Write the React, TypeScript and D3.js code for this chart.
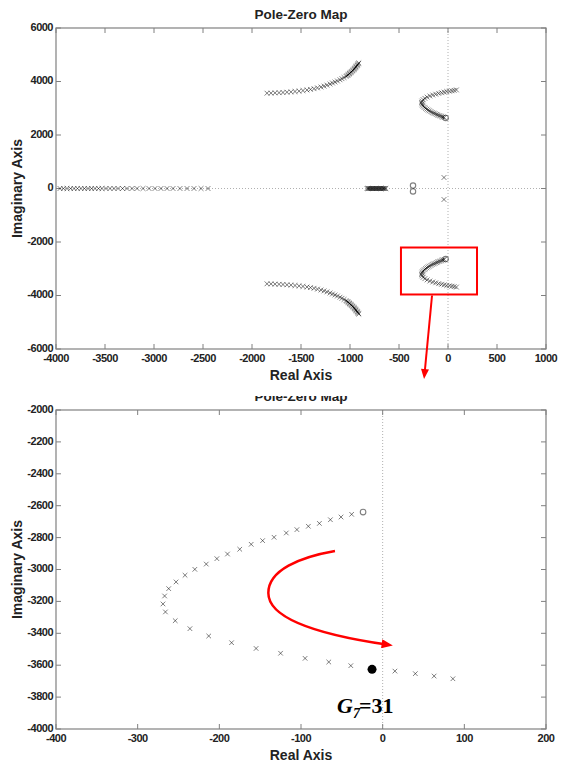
import React from "react";
import * as d3 from "d3";

const W = 561;
const H = 766;

// ---- full view: root locus of all poles ----
const realAxisPoles = [
  -3959, -3923, -3888, -3852, -3816, -3781, -3745, -3709, -3673, -3638, -3602,
  -3566, -3531, -3490, -3449, -3408, -3367, -3321, -3276, -3224, -3173, -3112,
  -3051, -2990, -2929, -2867, -2806, -2735, -2663, -2592, -2520, -2449,
];

// upper slow branch (its conjugate is drawn as the lower branch)
const slowBranchRe = [
  -1847, -1806, -1765, -1724, -1684, -1643, -1602, -1561, -1520, -1480, -1439,
  -1403, -1367, -1332, -1296, -1265, -1235, -1204, -1179, -1153, -1128, -1102,
  -1082, -1061, -1041, -1030, -1020, -1012, -1005, -997, -990, -982, -974, -966,
  -959, -952, -946, -940, -934, -927, -921, -915, -910,
];
const slowBranchIm = [
  3563, 3566, 3574, 3581, 3589, 3600, 3611, 3626, 3641, 3660, 3682, 3705, 3731,
  3761, 3794, 3828, 3865, 3906, 3944, 3981, 4019, 4063, 4105, 4149, 4194, 4220,
  4247, 4272, 4299, 4323, 4348, 4376, 4404, 4432, 4460, 4488, 4516, 4546, 4576,
  4606, 4636, 4664, 4692,
];

// dense cluster of real poles
const clusterRe = [
  -826, -818, -810, -802, -794, -786, -778, -770, -762, -754, -746, -738, -730,
  -722, -714, -706, -698, -690, -682, -674, -666, -658, -650, -642, -634,
];

// complex pair of zeros and poles near the origin (upper half values)
const nearZerosRe = [-357];
const nearZerosIm = [110];
const nearPolesRe = [-41];
const nearPolesIm = [411];

// ---- dominant branch (lower half), shown in detail in the zoomed view ----
const domBranchRe = [
  -38, -51, -64, -77.5, -91, -105, -118, -133, -147, -161, -175, -190, -203,
  -216, -230, -242, -253, -262, -267, -269, -266, -254, -236, -213, -185, -155,
  -125, -95, -66, -39, 15, 40, 63, 86,
];
const domBranchIm = [
  -2654, -2671, -2688, -2711, -2729, -2750, -2771, -2798, -2819, -2842, -2873,
  -2903, -2932, -2966, -2999, -3036, -3078, -3120, -3166, -3216, -3266, -3321,
  -3371, -3417, -3459, -3495, -3525, -3557, -3580, -3603, -3637, -3653, -3668,
  -3685,
];
const domZeroRe = [-24];
const domZeroIm = [-2640];

// operating point at gain 31
const gainPointRe = -13;
const gainPointIm = -3626;
const gainLabel = { sym: "G", sub: "7", rest: "=31" };

// ticks
const topXTicks = [-4000, -3500, -3000, -2500, -2000, -1500, -1000, -500, 0, 500, 1000];
const topYTicks = [-6000, -4000, -2000, 0, 2000, 4000, 6000];
const botXTicks = [-400, -300, -200, -100, 0, 100, 200];
const botYTicks = [-4000, -3800, -3600, -3400, -3200, -3000, -2800, -2600, -2400, -2200, -2000];

// highlight box in the full view (data units)
const boxRe = [-480, 296];
const boxIm = [-2206, -3962];

// sweep arrow in the zoomed view (data units, cubic control points)
const sweepRe = [-58.4, -101.2, -140, -140, -140, -101.2, 7];
const sweepIm = [-2884, -2922, -3003, -3147, -3273, -3392, -3472];

const FONT = "'Liberation Sans', Arial, Helvetica, sans-serif";
const AXIS = "#808080";
const MARK = "rgba(0,0,0,0.5)";
const RED = "#ff0000";

type Sc = d3.ScaleLinear<number, number>;

function cross(cx: number, cy: number, s = 2.4) {
  return `M${cx - s},${cy - s}L${cx + s},${cy + s}M${cx - s},${cy + s}L${cx + s},${cy - s}`;
}

function Frame({
  x,
  y,
  xTicks,
  yTicks,
  zeroH,
  clipTitle,
  id,
}: {
  x: Sc;
  y: Sc;
  xTicks: number[];
  yTicks: number[];
  zeroH: boolean;
  clipTitle: boolean;
  id: string;
}) {
  const [x0, x1] = x.range();
  const [y0, y1] = y.range(); // y0 bottom, y1 top
  const tl = 5;
  const cx = (x0 + x1) / 2;
  const cy = (y0 + y1) / 2;
  return (
    <g>
      {/* zero reference lines */}
      <line x1={x(0)} x2={x(0)} y1={y1} y2={y0} stroke="#b0b0b0" strokeDasharray="1,2" />
      {zeroH && (
        <line x1={x0} x2={x1} y1={y(0)} y2={y(0)} stroke="#b0b0b0" strokeDasharray="1,2" />
      )}
      {/* ticks on all four sides */}
      {xTicks.map((t) => (
        <g key={"xt" + t}>
          <line x1={x(t)} x2={x(t)} y1={y0} y2={y0 - tl} stroke={AXIS} />
          <line x1={x(t)} x2={x(t)} y1={y1} y2={y1 + tl} stroke={AXIS} />
          <text
            x={x(t)}
            y={y0 + 10}
            textAnchor="middle"
            dominantBaseline="middle"
            fontFamily={FONT}
            fontWeight="bold"
            fontSize={11}
            letterSpacing={-0.5}
            fill="#222"
          >
            {String(t)}
          </text>
        </g>
      ))}
      {yTicks.map((t) => (
        <g key={"yt" + t}>
          <line x1={x0} x2={x0 + tl} y1={y(t)} y2={y(t)} stroke={AXIS} />
          <line x1={x1} x2={x1 - tl} y1={y(t)} y2={y(t)} stroke={AXIS} />
          <text
            x={x0 - 3}
            y={y(t)}
            textAnchor="end"
            dominantBaseline="middle"
            fontFamily={FONT}
            fontWeight="bold"
            fontSize={11}
            letterSpacing={-0.5}
            fill="#222"
          >
            {String(t)}
          </text>
        </g>
      ))}
      <rect x={x0} y={y1} width={x1 - x0} height={y0 - y1} fill="none" stroke={AXIS} strokeWidth={1.2} />
      {/* labels */}
      {clipTitle && (
        <clipPath id={id}>
          <rect x={0} y={y1 - 14} width={W} height={14} />
        </clipPath>
      )}
      <text
        x={cx}
        y={y1 - 13}
        textAnchor="middle"
        dominantBaseline="middle"
        fontFamily={FONT}
        fontWeight="bold"
        fontSize={13.5}
        fill="#222"
        clipPath={clipTitle ? `url(#${id})` : undefined}
      >
        Pole-Zero Map
      </text>
      <text
        x={cx}
        y={y0 + 27}
        textAnchor="middle"
        dominantBaseline="middle"
        fontFamily={FONT}
        fontWeight="bold"
        fontSize={14}
        fill="#222"
      >
        Real Axis
      </text>
      <text
        transform={`translate(18,${cy}) rotate(-90)`}
        textAnchor="middle"
        dominantBaseline="middle"
        fontFamily={FONT}
        fontWeight="bold"
        fontSize={14}
        fill="#222"
      >
        Imaginary Axis
      </text>
    </g>
  );
}

export default function App() {
  const xTop = d3.scaleLinear().domain([-4000, 1000]).range([56, 546]);
  const yTop = d3.scaleLinear().domain([-6000, 6000]).range([349, 28]);
  const xBot = d3.scaleLinear().domain([-400, 200]).range([56, 546]);
  const yBot = d3.scaleLinear().domain([-4000, -2000]).range([729, 410]);

  // assemble the full-view pole set (both conjugate halves)
  const topPoles: [number, number][] = [];
  realAxisPoles.forEach((r) => topPoles.push([r, 0]));
  clusterRe.forEach((r) => topPoles.push([r, 0]));
  slowBranchRe.forEach((r, i) => {
    topPoles.push([r, slowBranchIm[i]]);
    topPoles.push([r, -slowBranchIm[i]]);
  });
  nearPolesRe.forEach((r, i) => {
    topPoles.push([r, nearPolesIm[i]]);
    topPoles.push([r, -nearPolesIm[i]]);
  });
  domBranchRe.forEach((r, i) => {
    topPoles.push([r, domBranchIm[i]]);
    topPoles.push([r, -domBranchIm[i]]);
  });
  topPoles.push([gainPointRe, gainPointIm]);
  topPoles.push([gainPointRe, -gainPointIm]);

  const topZeros: [number, number][] = [];
  nearZerosRe.forEach((r, i) => {
    topZeros.push([r, nearZerosIm[i]]);
    topZeros.push([r, -nearZerosIm[i]]);
  });
  domZeroRe.forEach((r, i) => {
    topZeros.push([r, domZeroIm[i]]);
    topZeros.push([r, -domZeroIm[i]]);
  });

  const topPath = topPoles.map(([r, i]) => cross(xTop(r), yTop(i))).join("");
  const botPath = domBranchRe.map((r, i) => cross(xBot(r), yBot(domBranchIm[i]), 2.3)).join("");

  // highlight box and connector arrow
  const bx0 = xTop(boxRe[0]);
  const bx1 = xTop(boxRe[1]);
  const by0 = yTop(boxIm[0]);
  const by1 = yTop(boxIm[1]);
  const arrStartX = xTop(-163);
  const arrStartY = by1 + 1;
  const arrEndX = arrStartX - 7.5;
  const arrEndY = yBot.range()[1] - 33;

  // sweep arrow path
  const sp = sweepRe.map((r, i) => [xBot(r), yBot(sweepIm[i])]);
  const sweep = d3.path();
  sweep.moveTo(sp[0][0], sp[0][1]);
  sweep.bezierCurveTo(sp[1][0], sp[1][1], sp[2][0], sp[2][1], sp[3][0], sp[3][1]);
  sweep.bezierCurveTo(sp[4][0], sp[4][1], sp[5][0], sp[5][1], sp[6][0], sp[6][1]);

  return (
    <div style={{ position: "absolute", left: 0, top: 0 }}>
      <svg width={W} height={H} style={{ display: "block", background: "#fff" }}>
        <defs>
          <marker
            id="headA"
            viewBox="0 0 10 8"
            refX={6}
            refY={4}
            markerWidth={12}
            markerHeight={9}
            markerUnits="userSpaceOnUse"
            orient="auto"
          >
            <path d="M0,0L10,4L0,8z" fill={RED} />
          </marker>
          <marker
            id="headB"
            viewBox="0 0 10 8"
            refX={5}
            refY={4}
            markerWidth={11}
            markerHeight={8}
            markerUnits="userSpaceOnUse"
            orient="auto"
          >
            <path d="M0,0L10,4L0,8z" fill={RED} />
          </marker>
        </defs>
        <rect width={W} height={H} fill="#fff" />

        {/* full view */}
        <Frame x={xTop} y={yTop} xTicks={topXTicks} yTicks={topYTicks} zeroH={true} clipTitle={false} id="ct1" />
        <path d={topPath} stroke={MARK} strokeWidth={1} fill="none" />
        {topZeros.map(([r, i], k) => (
          <circle key={"tz" + k} cx={xTop(r)} cy={yTop(i)} r={2.7} fill="none" stroke={MARK} strokeWidth={1.1} />
        ))}

        {/* zoomed view */}
        <Frame x={xBot} y={yBot} xTicks={botXTicks} yTicks={botYTicks} zeroH={false} clipTitle={true} id="ct2" />
        <path d={botPath} stroke={MARK} strokeWidth={1} fill="none" />
        {domZeroRe.map((r, k) => (
          <circle key={"bz" + k} cx={xBot(r)} cy={yBot(domZeroIm[k])} r={2.8} fill="none" stroke={MARK} strokeWidth={1.1} />
        ))}
        <circle cx={xBot(gainPointRe)} cy={yBot(gainPointIm)} r={4.5} fill="#000" />
        <text
          x={xBot(gainPointRe) - 35}
          y={yBot(gainPointIm) + 44}
          fontFamily="'Liberation Serif', 'Times New Roman', serif"
          fontWeight="bold"
          fontSize={22}
          fill="#000"
        >
          <tspan fontStyle="italic">{gainLabel.sym}</tspan>
          <tspan fontStyle="italic" fontSize={14} dy={5}>
            {gainLabel.sub}
          </tspan>
          <tspan dy={-5} dx={-1}>
            {gainLabel.rest}
          </tspan>
        </text>

        {/* annotations */}
        <rect x={bx0} y={by0} width={bx1 - bx0} height={by1 - by0} fill="none" stroke={RED} strokeWidth={2} />
        <line
          x1={arrStartX}
          y1={arrStartY}
          x2={arrEndX}
          y2={arrEndY - 3}
          stroke={RED}
          strokeWidth={2}
          markerEnd="url(#headB)"
        />
        <path d={sweep.toString()} fill="none" stroke={RED} strokeWidth={2.5} markerEnd="url(#headA)" />
      </svg>
    </div>
  );
}
